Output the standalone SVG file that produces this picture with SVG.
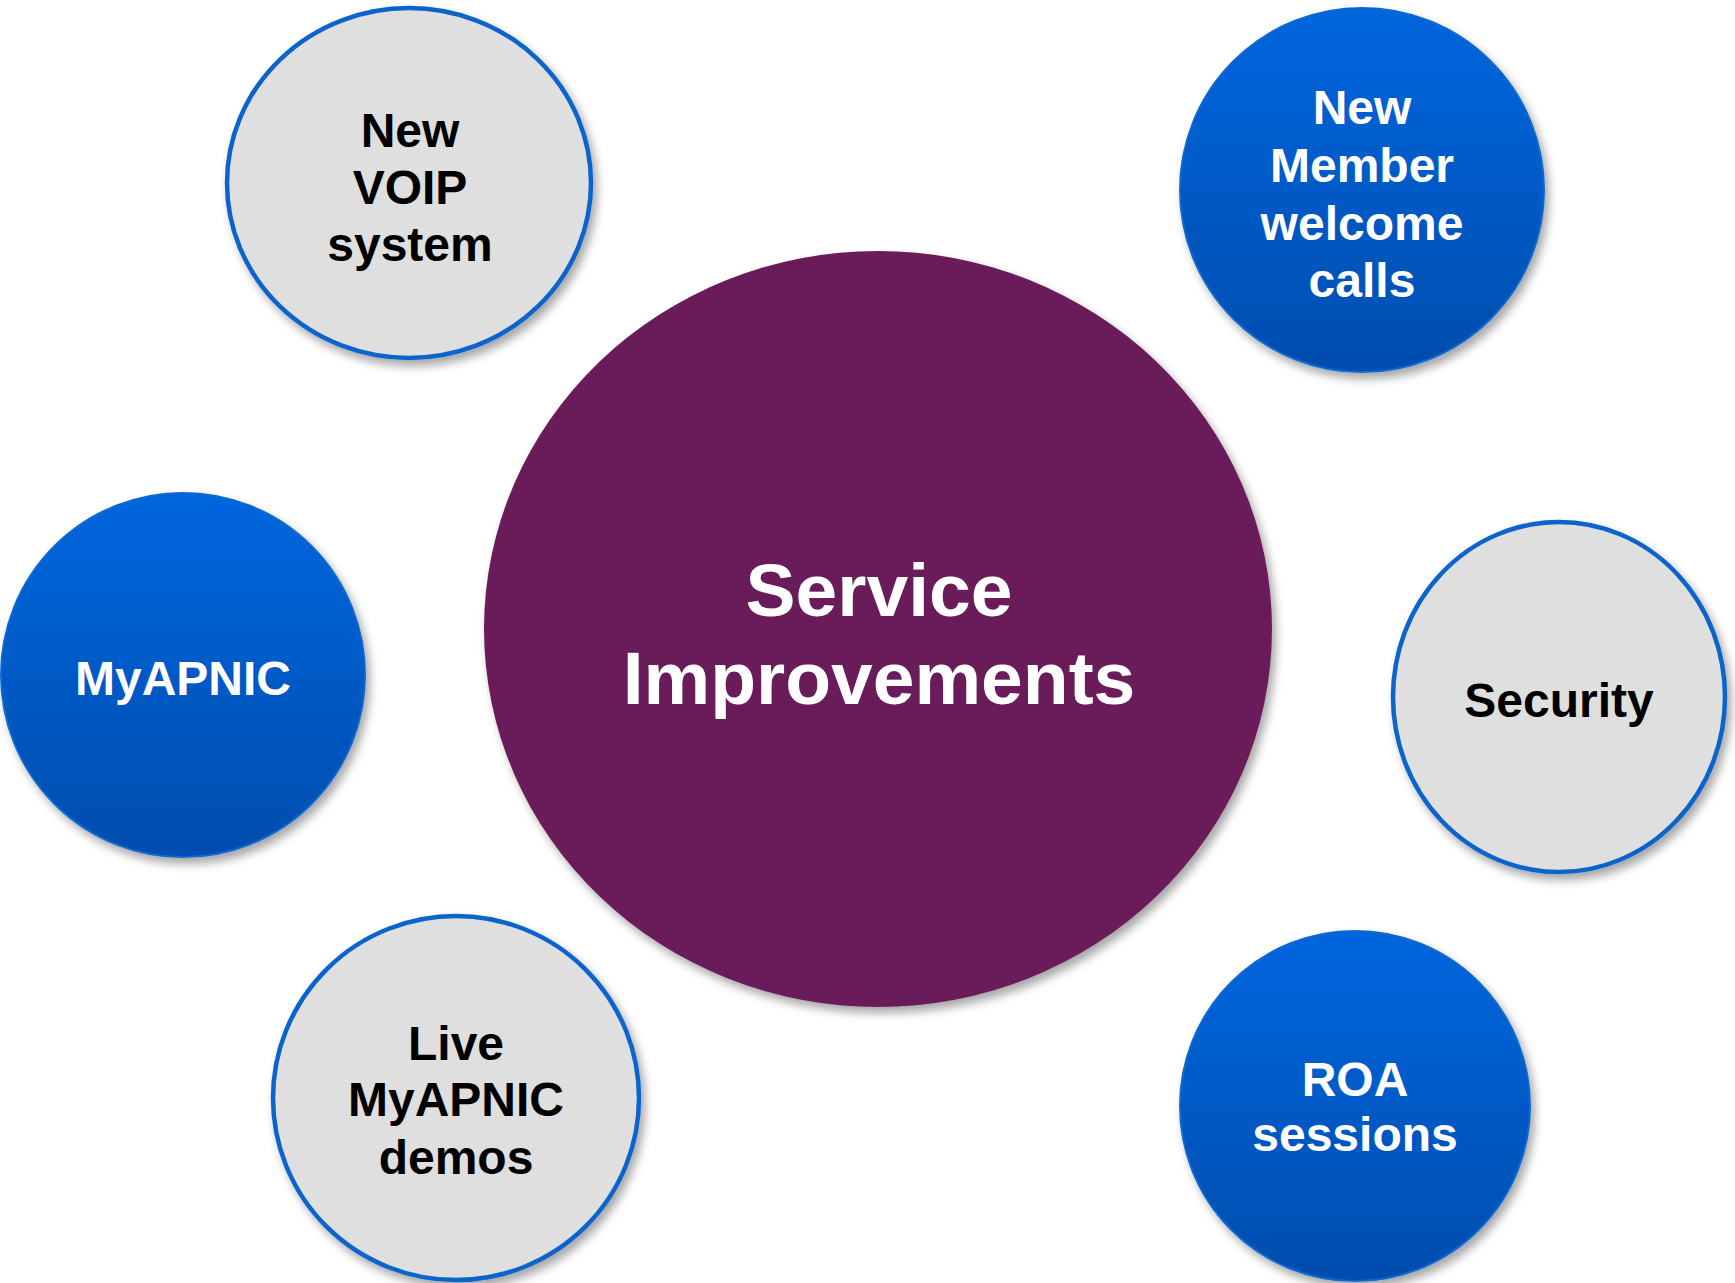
<svg xmlns="http://www.w3.org/2000/svg" width="1735" height="1283" viewBox="0 0 1735 1283">
<defs>
<linearGradient id="blueGrad" x1="0" y1="0" x2="0" y2="1">
<stop offset="0" stop-color="#0366DE"/>
<stop offset="1" stop-color="#004DAE"/>
</linearGradient>
<filter id="shadow" x="-20%" y="-20%" width="140%" height="140%">
<feDropShadow dx="4" dy="6" stdDeviation="5" flood-color="#000" flood-opacity="0.35"/>
</filter>
</defs>
<style>
.gray{fill:#DFDFDF;stroke:#0A64CC;stroke-width:4.5;filter:url(#shadow)}
.blue{fill:url(#blueGrad);stroke:#0A68D0;stroke-width:2;filter:url(#shadow)}
.center{fill:#6B1E5A;filter:url(#shadow)}
text{font-family:"Liberation Sans",Arial,sans-serif;font-weight:bold;text-anchor:middle}
.dark{fill:#000;font-size:48px}
.light{fill:#fff;font-size:48px}
.big{fill:#fff;font-size:75px}
</style>
<rect width="1735" height="1283" fill="#fff"/>
<g id="connectors"/>
<g id="center">
<ellipse class="center" cx="878" cy="629" rx="394" ry="378"/>
<text class="big" x="879" y="616">Service</text>
<text class="big" x="879" y="704">Improvements</text>
</g>
<g id="voip">
<ellipse class="gray" cx="409" cy="183" rx="182" ry="175"/>
<text class="dark" x="410" y="147">New</text>
<text class="dark" x="410" y="204">VOIP</text>
<text class="dark" x="410" y="261">system</text>
</g>
<g id="welcome">
<ellipse class="blue" cx="1362" cy="190" rx="182" ry="182"/>
<text class="light" x="1362" y="124">New</text>
<text class="light" x="1362" y="182">Member</text>
<text class="light" x="1362" y="240">welcome</text>
<text class="light" x="1362" y="297">calls</text>
</g>
<g id="myapnic">
<ellipse class="blue" cx="183" cy="675" rx="182" ry="182"/>
<text class="light" x="183" y="695">MyAPNIC</text>
</g>
<g id="security">
<ellipse class="gray" cx="1559" cy="697" rx="166" ry="175"/>
<text class="dark" x="1559" y="717">Security</text>
</g>
<g id="demos">
<ellipse class="gray" cx="456" cy="1098" rx="183" ry="182"/>
<text class="dark" x="456" y="1060">Live</text>
<text class="dark" x="456" y="1116">MyAPNIC</text>
<text class="dark" x="456" y="1174">demos</text>
</g>
<g id="roa">
<ellipse class="blue" cx="1355" cy="1106" rx="175" ry="175"/>
<text class="light" x="1355" y="1096">ROA</text>
<text class="light" x="1355" y="1151">sessions</text>
</g>
</svg>
